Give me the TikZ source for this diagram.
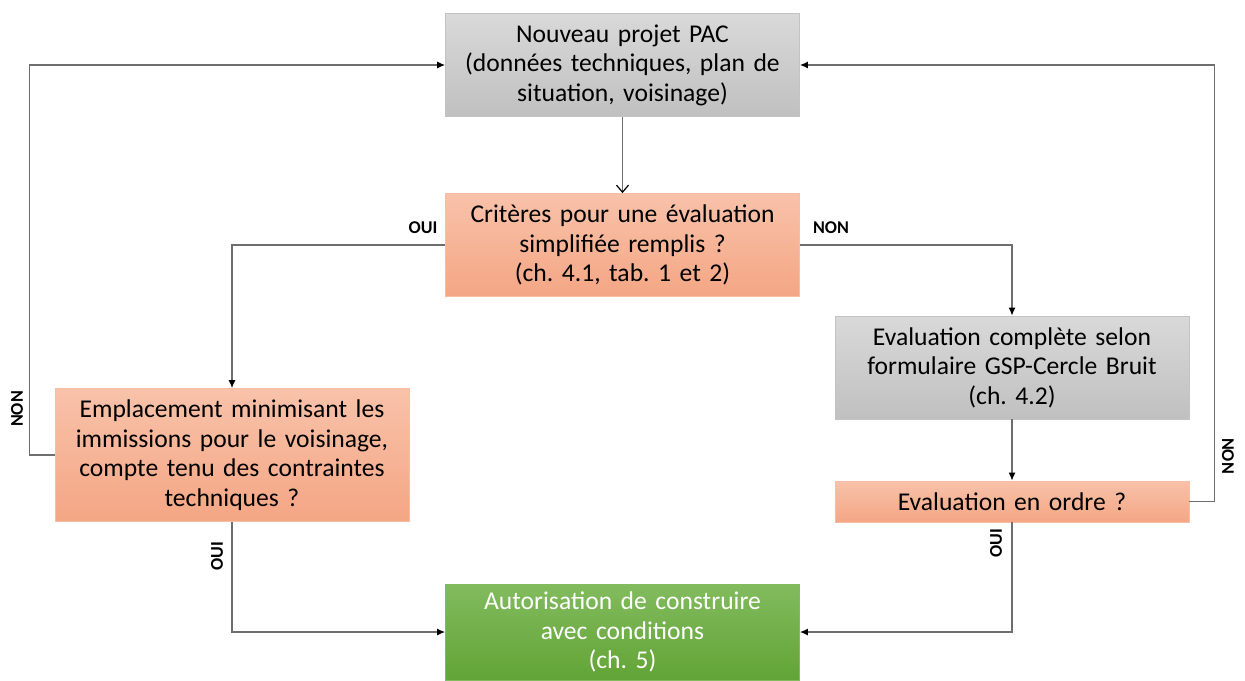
\documentclass[tikz,border=0pt]{standalone}
\usepackage{fontspec}
\setmainfont{Carlito}
\usepackage{xcolor}
\usetikzlibrary{arrows.meta,shadings}

\definecolor{grisA}{RGB}{217,217,217}
\definecolor{grisB}{RGB}{192,192,192}
\definecolor{orangeA}{RGB}{248,194,170}
\definecolor{orangeB}{RGB}{244,166,132}
\definecolor{vertA}{RGB}{130,187,94}
\definecolor{vertB}{RGB}{98,164,54}
\definecolor{trait}{RGB}{110,110,110}

\frenchspacing

\begin{document}
\begin{tikzpicture}[x=0.5pt,y=-0.5pt,
    box/.style={minimum width=177pt, minimum height=51.5pt, inner sep=0pt,
        text width=176pt, align=center, font=\fontsize{12.8}{14.8}\selectfont},
    gris/.style={box, top color=grisA, bottom color=grisB, draw=grisA!90!black},
    orange/.style={box, top color=orangeA, bottom color=orangeB, draw=orangeA!85!orangeB},
    vert/.style={box, top color=vertA, bottom color=vertB, draw=vertA, text=white},
    lien/.style={draw=trait, line width=0.6pt, -{Latex[length=4pt,width=3.5pt,color=black]}},
    etiq/.style={font=\fontsize{9}{10}\selectfont\bfseries, inner sep=1pt}]

    \useasboundingbox (0,0) rectangle (1245,680);

    % boxes
    \node[gris] (projet) at (622.5,65) {Nouveau projet PAC\\(données techniques, plan de\\situation, voisinage)};
    \node[orange] (criteres) at (622.5,245) {Critères pour une évaluation\\simplifiée remplis ?\\(ch. 4.1, tab. 1 et 2)};
    \node[orange, minimum height=66.5pt] (emplacement) at (232,455) {Emplacement minimisant les\\immissions pour le voisinage,\\compte tenu des contraintes\\techniques ?};
    \node[gris] (complete) at (1012,367.5) {Evaluation complète selon\\formulaire GSP-Cercle Bruit\\(ch. 4.2)};
    \node[orange, minimum height=20.5pt] (ordre) at (1012,501.5) {Evaluation en ordre ?};
    \node[vert, minimum height=48pt] (autorisation) at (622.5,632) {Autorisation de construire\\avec conditions\\(ch. 5)};

    % connectors
    \draw[draw=trait, line width=0.6pt, -{Straight Barb[length=3.5pt,width=6pt,color=black]}] (projet) -- (criteres);
    \draw[lien] (criteres.west) -| (emplacement.north);
    \draw[lien] (criteres.east) -| (complete.north);
    \draw[lien] (complete) -- (ordre);
    \draw[lien] (emplacement.west) -- ++(-25,0) |- (projet.west);
    \draw[lien] (ordre.east) -- ++(25,0) |- (projet.east);
    \draw[lien] (emplacement.south) |- (autorisation.west);
    \draw[lien] (ordre.south) |- (autorisation.east);

    % labels
    \node[etiq] (oui1) at (423,228) {OUI};
    \node[etiq] (non1) at (831,228) {NON};
    \node[etiq, rotate=90] (non2) at (17,409) {NON};
    \node[etiq, rotate=-90] (non3) at (1228,456) {NON};
    \node[etiq, rotate=90] (oui2) at (217,556) {OUI};
    \node[etiq, rotate=90] (oui3) at (996,543) {OUI};
\end{tikzpicture}
\end{document}
